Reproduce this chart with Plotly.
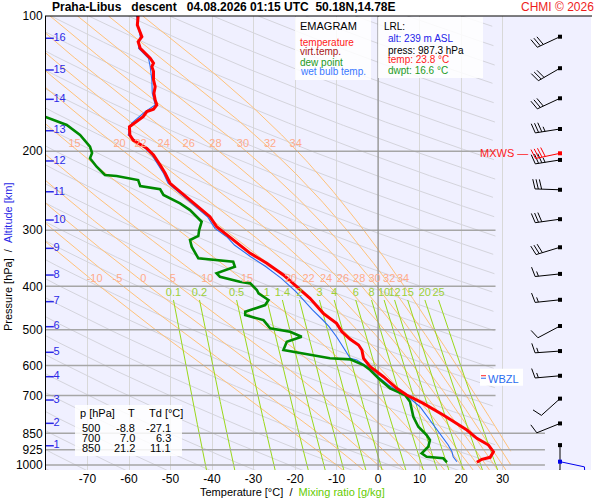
import numpy as np
import plotly.graph_objects as go

# ---------------- data ----------------
temp_p = [100.0, 104.7, 111.2, 114.1, 118.0, 121.1, 124.2, 127.4, 129.7, 133.0, 138.8, 143.7, 148.6,
          153.8, 157.8, 161.3, 163.3, 167.6, 173.4, 176.4, 184.1, 188.9, 197.1, 204.0, 214.7, 224.0,
          235.8, 246.2, 256.9, 268.1, 279.9, 294.6, 315.4, 337.7, 355.5, 377.4, 400.8, 425.3, 459.4,
          483.6, 504.9, 524.9, 540.4, 554.5, 578.6, 604.1, 635.9, 674.9, 698.5, 728.9, 773.9, 800.8,
          835.9, 872.1, 902.6, 934.1, 961.3, 971.2, 986.0]
temp_t = [-57.8, -58.0, -56.9, -57.8, -57.3, -56.1, -54.9, -54.1, -54.5, -54.1, -54.1, -53.7, -54.0,
          -53.7, -53.3, -54.1, -55.7, -56.6, -59.0, -59.9, -59.8, -59.0, -55.7, -54.1, -52.5, -51.3,
          -50.1, -47.7, -45.3, -42.9, -40.5, -38.9, -34.9, -30.8, -26.8, -22.8, -19.6, -16.4, -13.2,
          -10.0, -8.7, -6.7, -4.7, -3.9, -3.5, -1.9, 1.3, 4.5, 6.9, 10.9, 15.7, 18.1,
          21.4, 23.8, 26.6, 27.8, 27.0, 25.0, 23.8]
dewp_p = [167.6, 174.9, 184.1, 195.4, 201.9, 207.4, 216.6, 226.0, 227.2, 231.9, 239.1, 243.2, 250.4,
          261.3, 270.5, 279.9, 287.2, 299.7, 309.0, 315.4, 326.4, 346.5, 352.6, 361.8, 374.3, 380.8,
          390.7, 393.9, 407.6, 414.6, 429.1, 440.3, 455.7, 463.5, 475.6, 496.3, 504.9, 518.0, 531.4,
          554.5, 559.4, 578.6, 581.6, 598.9, 614.4, 641.1, 674.9, 698.5, 722.9, 780.7, 821.7, 857.6,
          879.9, 910.4, 941.8, 958.3, 966.2, 986.0]
dewp_t = [-80.2, -75.0, -71.8, -69.4, -68.9, -69.4, -67.8, -65.8, -63.0, -57.8, -57.3, -52.5, -51.7,
          -47.7, -45.3, -43.7, -42.5, -43.1, -43.3, -45.3, -44.9, -43.3, -34.9, -34.5, -38.9, -38.1,
          -33.3, -30.8, -29.2, -28.8, -26.4, -27.2, -32.0, -32.0, -27.6, -26.0, -21.2, -18.4, -22.0,
          -22.8, -20.4, -11.6, -6.7, -3.5, -1.9, 0.1, 2.9, 6.5, 7.7, 8.5, 9.7, 11.7,
          12.5, 12.1, 10.5, 11.7, 15.7, 16.6]
wetb_p = [100.0, 111.2, 118.0, 124.2, 129.7, 138.8, 148.6, 157.8, 163.3, 173.4, 184.1, 197.1, 204.0,
          214.7, 224.0, 235.8, 246.2, 256.9, 268.1, 279.9, 297.1, 311.1, 323.6, 343.6, 361.7, 383.9,
          411.2, 436.4, 451.6, 475.4, 492.0, 517.9, 545.2, 563.9, 578.6, 583.7, 609.0, 635.9, 663.6,
          686.7, 698.5, 741.7, 794.0, 850.2, 902.6, 934.1, 958.3, 983.2]
wetb_t = [-58.2, -57.3, -57.7, -55.3, -54.9, -54.5, -54.4, -53.7, -56.1, -59.4, -60.2, -56.1, -54.5,
          -52.9, -51.7, -50.6, -48.2, -45.8, -43.4, -41.1, -39.3, -36.3, -34.6, -30.7, -27.0, -23.3,
          -19.8, -17.2, -15.8, -13.3, -11.8, -10.0, -8.5, -7.6, -6.7, -5.1, -2.0, 0.0, 2.5,
          5.0, 6.7, 10.1, 12.5, 14.9, 16.9, 17.8, 18.1, 19.0]
alt_km = [16, 15, 14, 13, 12, 11, 10, 9, 8, 7, 6, 5, 4, 3, 2, 1]
alt_p = [112.1, 131.9, 153.3, 180.1, 210.3, 246.3, 284.7, 329.2, 377.5, 432.7, 492.0, 561.0,
         635.8, 716.6, 807.5, 905.9]
wind_p = [111.2, 130.7, 152.5, 178.5, 209.2, 243.8, 283.5, 327.4, 375.3, 428.6, 490.3, 557.5,
          632.8, 711.5, 808.0, 903.0]
wind_dir = [245, 240, 245, 261, 261, 272, 262, 253, 264, 264, 242, 266, 265, 228, 248, 180]
wind_kt = [30, 30, 30, 35, 35, 30, 30, 30, 15, 15, 10, 15, 15, 10, 10, 5]
maxw_p, maxw_dir, maxw_kt = 202.2, 258, 40
sfc_p, sfc_dir, sfc_kt = 983.0, 102, 10
pressure_ticks = [100, 200, 300, 400, 500, 600, 700, 850, 925, 1000]
temp_ticks = [-70, -60, -50, -40, -30, -20, -10, 0, 10, 20, 30]
mix_ratios = [0.1, 0.2, 0.5, 1, 1.4, 2, 3, 4, 6, 8, 10, 12, 15, 20, 25]
theta_w = [-10, -5, 0, 5, 10, 15, 20, 22, 24, 26, 28, 30, 32, 34]
grey_index = list(range(-10, 27))
table_p = [500, 700, 850]
table_t = [-8.8, 7.0, 21.2]
table_td = [-27.1, 6.3, 11.1]
lrl_alt, lrl_press, lrl_temp, lrl_dwpt = 239, 987.3, 23.8, 16.6

# ---------------- geometry ----------------
W, H = 600, 500
ML, MR, MT, MB = 46, 9, 16, 30
PW, PH = W - ML - MR, H - MT - MB
T_MIN, T_MAX = -80.0, 51.3
P_TOP, P_BOT = 100.0, 1025.9
PX_T = PW / (T_MAX - T_MIN)
PX_DEC = PH / np.log10(P_BOT / P_TOP)
FONT = "Liberation Sans, Arial, sans-serif"


def pxx(px):
    return (px - ML) / PW


def pxy(py):
    return (H - MB - py) / PH


def p2py(p):
    return MT + PX_DEC * (np.log10(p) - np.log10(P_TOP))


def shift(t, p, dx, dy):
    return t + dx / PX_T, p * 10 ** (dy / PX_DEC)


fig = go.Figure()


def add_line(xs, ys, color, width):
    fig.add_trace(go.Scatter(x=xs, y=ys, mode="lines", line=dict(color=color, width=width),
                             hoverinfo="skip", showlegend=False, connectgaps=False))


def clipped(T, P, tmax):
    T = np.asarray(T); P = np.asarray(P)
    m = (T <= tmax) & (T >= T_MIN - 10)
    return list(T[m]) + [None], list(P[m]) + [None]


def es(tc):
    return 6.112 * np.exp(17.67 * tc / (tc + 243.5))


def dTdp(T, p):
    e = es(T - 273.15)
    rs = 0.622 * e / (p - e)
    return (287.04 * T + 2.501e6 * rs) / (p * (1005.7 + 2.501e6 ** 2 * rs * 0.622 / (287.04 * T * T)))


def moist(tw, grid):
    T = [tw + 273.15]
    for i in range(len(grid) - 1):
        p, h, t = grid[i], grid[i + 1] - grid[i], T[-1]
        k1 = dTdp(t, p)
        k2 = dTdp(t + h / 2 * k1, p + h / 2)
        k3 = dTdp(t + h / 2 * k2, p + h / 2)
        k4 = dTdp(t + h * k3, p + h)
        T.append(t + h / 6 * (k1 + 2 * k2 + 2 * k3 + k4))
    return np.array(T) - 273.15


def td_of_w(w, p):
    e = w * p / (622.0 + w)
    l = np.log(e / 6.112)
    return 243.5 * l / (17.67 - l)


pgrid = np.geomspace(P_TOP, P_BOT + 5, 400)

# grey background family (shallow diagonal lines)
GK, GC0, GR = 0.47, 288.8, 1.0468
xs, ys = [], []
for n in grey_index:
    c = GC0 * GR ** n
    T = c * (pgrid / 1000.0) ** GK - 273.15
    a, b = clipped(T, pgrid, 28.3)
    xs += a; ys += b
add_line(xs, ys, "#d4d4dc", 1)

# pseudo-adiabats (orange)
up = np.arange(1000.0, 99.0, -2.0)
dn = np.arange(1000.0, 1032.0, 2.0)
xs, ys = [], []
moist_lines = {}
for tw in theta_w:
    Tu = moist(tw, up)
    Td_ = moist(tw, dn)
    P = np.concatenate([up[::-1], dn[1:]])
    T = np.concatenate([Tu[::-1], Td_[1:]])
    moist_lines[tw] = (T, P)
    a, b = clipped(T, P, 32.0)
    xs += a; ys += b
add_line(xs, ys, "#ffc27a", 1)

# mixing ratio lines (green)
pm = np.geomspace(429.0, P_BOT + 5, 60)
xs, ys = [], []
for w in mix_ratios:
    a, b = clipped(td_of_w(w, pm), pm, 40)
    xs += a; ys += b
add_line(xs, ys, "#9ad81a", 1)

# isobars
xs, ys = [], []
for p in pressure_ticks[1:]:
    tend = 40.2 if p >= 850 else 28.3
    xs += [T_MIN, tend, None]; ys += [p, p, None]
add_line(xs, ys, "#a6a6a6", 1.5)
add_line([0, 0], [P_TOP, P_BOT], "#8c8c8c", 1.2)

# ---------------- sounding curves ----------------
add_line(wetb_t, wetb_p, "#2a6cf0", 1.1)
add_line(dewp_t, dewp_p, "#008a00", 2.6)
add_line(temp_t, temp_p, "#ff0000", 3)

# ---------------- wind barbs ----------------
BARB_T = T_MIN + (560 - ML) / PX_T


def barb(p, d, kt, L=25.0):
    xs, ys = [], []
    a = np.deg2rad(d); ux, uy = np.sin(a), -np.cos(a)
    b = np.deg2rad(d + 75); fx, fy = np.sin(b), -np.cos(b)
    segs = [((0, 0), (L * ux, L * uy))]
    pos = L
    for _ in range(int(kt // 10)):
        bx, by = pos * ux, pos * uy
        segs.append(((bx, by), (bx + 10 * fx, by + 10 * fy)))
        pos -= 3.3
    if kt % 10 >= 5:
        bx, by = pos * ux, pos * uy
        segs.append(((bx, by), (bx + 5 * fx, by + 5 * fy)))
    for s in segs:
        for dx, dy in s:
            t, pp = shift(BARB_T, p, dx, dy)
            xs.append(t); ys.append(pp)
        xs.append(None); ys.append(None)
    return xs, ys


xs, ys = [], []
for p, d, k in zip(wind_p, wind_dir, wind_kt):
    a, b = barb(p, d, k)
    xs += a; ys += b
add_line(xs, ys, "black", 1)
a, b = barb(maxw_p, maxw_dir, maxw_kt)
add_line(a, b, "#ff0000", 1)
a, b = barb(sfc_p, sfc_dir, sfc_kt)
add_line(a, b, "#0000ee", 1)
fig.add_trace(go.Scatter(x=[BARB_T] * len(wind_p), y=wind_p, mode="markers",
                         marker=dict(symbol="square", size=4, color="black"), hoverinfo="skip", showlegend=False))
fig.add_trace(go.Scatter(x=[BARB_T, BARB_T], y=[maxw_p, sfc_p], mode="markers",
                         marker=dict(symbol="square", size=4, color=["#ff0000", "#0000ee"]), hoverinfo="skip",
                         showlegend=False))

# ---------------- altitude scale ----------------
fig.add_trace(go.Scatter(x=[T_MIN + 3.6 / PX_T] * len(alt_p), y=alt_p, mode="markers",
                         marker=dict(symbol="line-ew", size=6, line=dict(color="#2a2ae6", width=1.5)),
                         hoverinfo="skip", showlegend=False))
fig.add_trace(go.Scatter(x=[T_MIN + 7.5 / PX_T] * len(alt_p), y=alt_p, mode="text",
                         text=[str(k) for k in alt_km], textposition="middle right",
                         textfont=dict(color="#2a2ae6", size=11, family=FONT), hoverinfo="skip",
                         showlegend=False))

# ---------------- line labels ----------------
lab_x, lab_y, lab_t = [], [], []
for lp, dxp in ((200, 5.0), (400, 3.5)):
    plab = lp * 10 ** (-7 / PX_DEC)
    for tw in theta_w:
        T, P = moist_lines[tw]
        tx = float(np.interp(plab, P, T)) + dxp / PX_T
        if T_MIN + 3 < tx < 36:
            lab_x.append(tx); lab_y.append(plab); lab_t.append(str(tw))
fig.add_trace(go.Scatter(x=lab_x, y=lab_y, mode="text", text=lab_t,
                         textfont=dict(color="#ffab8a", size=11, family=FONT), hoverinfo="skip",
                         showlegend=False))
mx = [float(td_of_w(w, 429.0)) for w in mix_ratios]
fig.add_trace(go.Scatter(x=mx, y=[415.0] * len(mix_ratios), mode="text",
                         text=[("%g" % w) for w in mix_ratios],
                         textfont=dict(color="#9ccf36", size=11, family=FONT), hoverinfo="skip",
                         showlegend=False))

# ---------------- boxes & texts ----------------
shapes = []
annots = []


def box(x0, y0, x1, y1, color="rgba(255,255,255,0.85)"):
    shapes.append(dict(type="rect", xref="paper", yref="paper", x0=pxx(x0), x1=pxx(x1), y0=pxy(y1),
                       y1=pxy(y0), fillcolor=color, line=dict(width=0), layer="above"))


def txt(x, y, s, color="black", size=10, anchor="left", bold=False):
    annots.append(dict(xref="paper", yref="paper", x=pxx(x), y=pxy(y), text=("<b>%s</b>" % s) if bold else s,
                       showarrow=False, xanchor=anchor, yanchor="middle",
                       font=dict(color=color, size=size, family=FONT)))


box(295, 17, 371, 80)
box(378, 17, 483, 78)
box(75, 405, 182, 456)

NB = "\u00a0"
txt(50, 7, "Praha-Libus" + NB * 3 + "descent" + NB * 3 + "04.08.2026 01:15 UTC" + NB * 2 + "50.18N,14.78E",
    size=12, bold=True)
txt(596, 7, "CHMI © 2026", color="#ee1c1c", size=12, anchor="right")

txt(298, 26, "EMAGRAM", size=11)
txt(298, 42, "temperature", color="#ff1a1a")
txt(298, 52, "virt.temp.", color="#a81818")
txt(298, 62, "dew point", color="#1c9a1c")
txt(298, 72, "wet bulb temp.", color="#3a78ff")

txt(382, 27, "LRL:", size=10)
txt(386, 39, "alt: %d m ASL" % lrl_alt, color="#2424e8")
txt(386, 50, "press: %.1f hPa" % lrl_press)
txt(386, 60, "temp: %.1f °C" % lrl_temp, color="#ff1a1a")
txt(386, 70, "dwpt: %.1f °C" % lrl_dwpt, color="#1c9a1c")

txt(78, 413, "p [hPa]", size=11)
txt(131, 413, "T", size=11, anchor="center")
txt(147, 413, "Td [°C]", size=11)
for i, (pp, tt, dd) in enumerate(zip(table_p, table_t, table_td)):
    yy = 427.5 + i * 10
    txt(102, yy, str(pp), size=11, anchor="right")
    txt(137, yy, "%.1f" % tt, size=11, anchor="right")
    txt(173, yy, "%.1f" % dd, size=11, anchor="right")

txt(530, p2py(maxw_p), "MXWS —", color="#ff1a1a", size=11, anchor="right")

# WBZL (wet-bulb zero level from the wet-bulb profile)
p_wbz = None
for i in range(len(wetb_t) - 1, 0, -1):
    if wetb_t[i - 1] < 0 <= wetb_t[i]:
        f = (0 - wetb_t[i - 1]) / (wetb_t[i] - wetb_t[i - 1])
        p_wbz = 10 ** (np.log10(wetb_p[i - 1]) + f * (np.log10(wetb_p[i]) - np.log10(wetb_p[i - 1])))
        break
yw = p2py(p_wbz) + 1
box(480, yw - 9, 523, yw + 8, color="white")
shapes.append(dict(type="line", xref="paper", yref="paper", x0=pxx(481), x1=pxx(486), y0=pxy(yw - 2),
                   y1=pxy(yw - 2), line=dict(color="#ff2020", width=1), layer="above"))
shapes.append(dict(type="line", xref="paper", yref="paper", x0=pxx(481), x1=pxx(486), y0=pxy(yw + 0.5),
                   y1=pxy(yw + 0.5), line=dict(color="#2a6cf0", width=1), layer="above"))
txt(486, yw + 1, "WBZL", color="#2a6cf0", size=11)

annots.append(dict(xref="paper", yref="paper", x=pxx(292), y=pxy(492), showarrow=False, xanchor="center",
                   yanchor="middle", font=dict(size=11, family=FONT, color="black"),
                   text="Temperature [°C]" + NB * 2 + "/" + NB * 2 +
                        "<span style='color:#66cc00'>Mixing ratio [g/kg]</span>"))
annots.append(dict(xref="paper", yref="paper", x=pxx(8), y=pxy(257), showarrow=False, xanchor="center",
                   yanchor="middle", textangle=-90, font=dict(size=11, family=FONT, color="black"),
                   text="Pressure [hPa]" + NB * 2 + "/" + NB * 2 +
                        "<span style='color:#2a2ae6'>Altitude [km]</span>"))

shapes.append(dict(type="line", xref="paper", yref="paper", x0=pxx(45), x1=pxx(592), y0=1, y1=1,
                   line=dict(color="black", width=1.2), layer="above"))

fig.update_layout(
    width=W, height=H, margin=dict(l=ML, r=MR, t=MT, b=MB, pad=0),
    paper_bgcolor="white", plot_bgcolor="#f0f0ff", showlegend=False,
    font=dict(family=FONT, size=12, color="black"),
    shapes=shapes, annotations=annots,
)
fig.update_xaxes(range=[T_MIN, T_MAX], tickvals=temp_ticks, ticktext=[str(v) for v in temp_ticks],
                 showgrid=True, gridcolor="#d8d8d8", gridwidth=1, zeroline=False, showline=False,
                 ticks="", tickfont=dict(size=12, color="black"), fixedrange=True)
fig.update_yaxes(type="log", range=[np.log10(P_BOT), np.log10(P_TOP)], tickvals=pressure_ticks,
                 ticktext=[str(v) for v in pressure_ticks], showgrid=False, zeroline=False,
                 showline=True, linecolor="black", linewidth=1, ticks="",
                 tickfont=dict(size=12, color="black"), fixedrange=True)

fig.write_html("out.html", config={"displayModeBar": False, "staticPlot": True},
               post_script="document.body.style.margin='0px';document.body.style.overflow='hidden';")
